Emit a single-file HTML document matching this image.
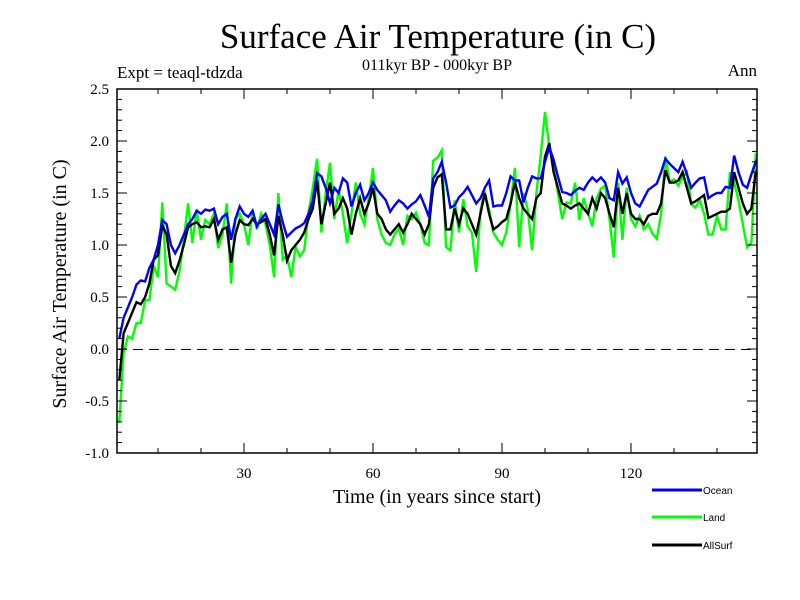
<!DOCTYPE html>
<html><head><meta charset="utf-8"><style>
body{margin:0;background:#fff;}
svg{display:block;}
text{font-family:"Liberation Serif",serif;fill:#000;}
</style></head><body>
<svg id="chart" width="800" height="600" xmlns="http://www.w3.org/2000/svg">
<text x="438" y="48" font-size="35" text-anchor="middle">Surface Air Temperature (in C)</text>
<text x="117" y="78" font-size="17">Expt = teaql-tdzda</text>
<text x="437" y="70" font-size="16" text-anchor="middle">011kyr BP - 000kyr BP</text>
<text x="757" y="76" font-size="17" text-anchor="end">Ann</text>
<text x="0" y="0" font-size="20" text-anchor="middle" transform="translate(66,284) rotate(-90)">Surface Air Temperature (in C)</text>
<text x="437" y="503" font-size="20" text-anchor="middle">Time (in years since start)</text>
<g id="grid"></g>
<g>
<line x1="652" y1="490" x2="702" y2="490" stroke="#0000ff" stroke-width="3"/>
<text x="703" y="494" font-size="10" style="font-family:'Liberation Sans',sans-serif">Ocean</text>
<line x1="652" y1="517" x2="702" y2="517" stroke="#00ff00" stroke-width="3"/>
<text x="703" y="521" font-size="10" style="font-family:'Liberation Sans',sans-serif">Land</text>
<line x1="652" y1="545" x2="702" y2="545" stroke="#000" stroke-width="3"/>
<text x="703" y="549" font-size="10" style="font-family:'Liberation Sans',sans-serif">AllSurf</text>
</g>
</svg>
<script>
const ocean=[0.1,0.3,0.4,0.5,0.62,0.66,0.65,0.78,0.86,1.0,
1.24,1.2,1.0,0.92,1.0,1.1,1.2,1.25,1.33,1.3,
1.34,1.33,1.35,1.2,1.27,1.3,1.05,1.25,1.37,1.3,
1.27,1.33,1.18,1.25,1.3,1.2,1.1,1.39,1.22,1.08,
1.12,1.16,1.18,1.21,1.3,1.43,1.69,1.66,1.55,1.4,
1.55,1.5,1.64,1.6,1.37,1.5,1.58,1.43,1.5,1.6,
1.53,1.48,1.43,1.32,1.38,1.43,1.4,1.35,1.39,1.42,
1.48,1.38,1.27,1.64,1.7,1.8,1.6,1.36,1.38,1.46,
1.5,1.56,1.48,1.4,1.45,1.55,1.62,1.37,1.38,1.38,
1.5,1.66,1.62,1.62,1.41,1.55,1.66,1.64,1.64,1.8,
1.94,1.82,1.66,1.51,1.5,1.48,1.52,1.55,1.53,1.6,
1.65,1.61,1.65,1.6,1.45,1.43,1.7,1.59,1.65,1.5,
1.4,1.37,1.45,1.53,1.56,1.59,1.7,1.83,1.78,1.74,
1.7,1.8,1.68,1.55,1.6,1.64,1.65,1.45,1.48,1.5,
1.5,1.56,1.55,1.86,1.7,1.58,1.55,1.68,1.8,1.86];
const land=[-0.71,-0.04,0.12,0.1,0.25,0.25,0.47,0.47,0.8,0.69,
1.41,0.63,0.6,0.57,0.75,1.05,1.4,1.02,1.34,1.05,
1.24,1.2,1.3,0.97,1.1,1.4,0.63,1.25,1.3,1.2,
1.0,1.33,1.15,1.3,1.2,1.0,0.69,1.5,0.86,0.9,
0.69,0.98,0.89,0.95,1.31,1.55,1.83,1.12,1.5,1.79,
1.25,1.53,1.3,1.02,1.3,1.6,1.3,1.2,1.45,1.74,
1.25,1.1,1.02,1.0,1.1,1.16,1.0,1.28,1.25,1.31,
1.2,1.02,1.0,1.81,1.84,1.91,0.98,0.95,1.43,1.12,
1.44,1.18,1.12,0.74,1.34,1.5,1.34,1.12,1.05,1.0,
1.12,1.4,1.74,0.98,1.5,1.34,0.95,1.5,1.86,2.28,
1.94,1.76,1.5,1.25,1.41,1.4,1.6,1.24,1.45,1.31,
1.18,1.45,1.54,1.57,1.25,0.88,1.6,1.05,1.55,1.25,
1.18,1.28,1.15,1.2,1.11,1.06,1.3,1.85,1.61,1.63,
1.57,1.65,1.7,1.39,1.36,1.43,1.3,1.1,1.1,1.28,
1.15,1.15,1.7,1.6,1.43,1.2,0.98,1.02,1.86,1.79];
const allsurf=[-0.3,0.15,0.25,0.35,0.45,0.43,0.5,0.63,0.86,0.9,
1.19,1.1,0.8,0.73,0.85,1.0,1.17,1.2,1.22,1.17,
1.18,1.17,1.25,1.05,1.15,1.17,0.83,1.1,1.24,1.2,
1.19,1.25,1.2,1.22,1.25,1.1,0.9,1.28,1.1,0.85,
0.95,1.0,1.05,1.12,1.25,1.35,1.62,1.2,1.4,1.6,
1.3,1.35,1.45,1.35,1.1,1.3,1.45,1.3,1.4,1.55,
1.3,1.25,1.15,1.1,1.15,1.2,1.12,1.2,1.3,1.25,
1.2,1.1,1.2,1.55,1.65,1.68,1.15,1.15,1.35,1.2,
1.35,1.3,1.2,1.1,1.3,1.5,1.3,1.15,1.18,1.22,
1.25,1.4,1.6,1.45,1.35,1.3,1.25,1.45,1.5,1.85,
1.98,1.7,1.55,1.4,1.38,1.35,1.38,1.4,1.35,1.3,
1.45,1.35,1.5,1.45,1.3,1.17,1.55,1.3,1.5,1.3,
1.25,1.25,1.2,1.28,1.3,1.3,1.4,1.72,1.6,1.6,
1.62,1.7,1.55,1.4,1.42,1.45,1.48,1.26,1.28,1.3,
1.32,1.32,1.35,1.7,1.55,1.4,1.3,1.35,1.7,1.75];
const yTickLabels=["2.5","2.0","1.5","1.0","0.5","0.0","-0.5","-1.0"];
const yTickValues=[2.5,2.0,1.5,1.0,0.5,0.0,-0.5,-1.0];
const xTickValues=[30,60,90,120];
const xTickLabels=["30","60","90","120"];

const L=117,R=757,T=89,B=453;
const xs=yr=>115+yr*4.3;
const ys=v=>349-v*104;
const NS="http://www.w3.org/2000/svg";
const g=document.getElementById('grid');
function mk(tag,attrs){const e=document.createElementNS(NS,tag);for(const k in attrs)e.setAttribute(k,attrs[k]);return e;}

const clip=mk('clipPath',{id:'pc'});clip.appendChild(mk('rect',{x:L,y:T,width:R-L,height:B-T}));
const defs=mk('defs',{});defs.appendChild(clip);g.appendChild(defs);

const zero=mk('line',{x1:L,x2:R,y1:ys(0)+0.5,y2:ys(0)+0.5,stroke:'#000','stroke-width':1,'stroke-dasharray':'10,6','shape-rendering':'crispEdges'});


g.appendChild(zero);

function series(arr,color,name){
  const pts=arr.map((v,i)=>xs(i+1).toFixed(1)+','+ys(v).toFixed(1)).join(' ');
  const p=mk('polyline',{points:pts,fill:'none',stroke:color,'stroke-width':2.4,'clip-path':'url(#pc)','stroke-linejoin':'miter'});
  
  
  g.appendChild(p);
}
series(land,'#00ff00','land-series');
series(allsurf,'#000000','allsurf-series');
series(ocean,'#0000ff','ocean-series');

const frame=mk('rect',{x:L,y:T,width:R-L,height:B-T,fill:'none',stroke:'#000','stroke-width':1.5});


g.appendChild(frame);

for(let k=-10;k<=25;k++){
  const v=k/10,y=ys(v),major=(k%5===0),len=major?10:5;
  g.appendChild(mk('line',{x1:L,x2:L+len,y1:y,y2:y,stroke:'#000','stroke-width':1}));
  g.appendChild(mk('line',{x1:R,x2:R-len,y1:y,y2:y,stroke:'#000','stroke-width':1}));
}
yTickValues.forEach((v,i)=>{
  const t=mk('text',{x:109,y:ys(v)+5,'font-size':15,'text-anchor':'end'});
  t.textContent=yTickLabels[i];
  
  
  g.appendChild(t);
});
for(let yr=10;yr<=140;yr+=10){
  const x=xs(yr),major=(yr%30===0),len=major?10:5;
  g.appendChild(mk('line',{x1:x,x2:x,y1:B,y2:B-len,stroke:'#000','stroke-width':1}));
  g.appendChild(mk('line',{x1:x,x2:x,y1:T,y2:T+len,stroke:'#000','stroke-width':1}));
}
xTickValues.forEach((v,i)=>{
  const t=mk('text',{x:xs(v),y:478,'font-size':15,'text-anchor':'middle'});
  t.textContent=xTickLabels[i];
  
  
  g.appendChild(t);
});
</script>
</body></html>
